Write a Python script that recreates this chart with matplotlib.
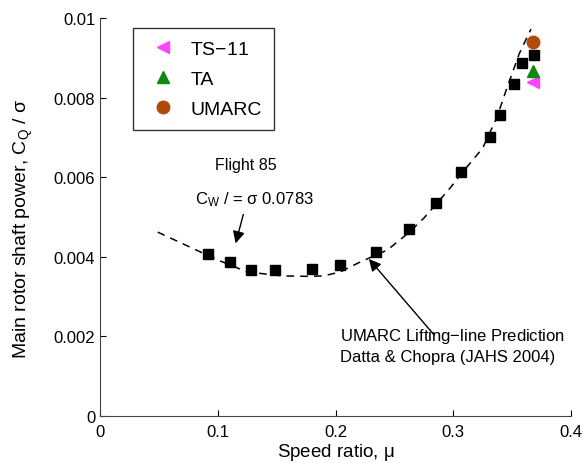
import numpy as np
import matplotlib.pyplot as plt

plt.rcParams['font.family'] = ['Liberation Sans', 'DejaVu Sans']
plt.rcParams['mathtext.fontset'] = 'custom'
plt.rcParams['mathtext.rm'] = 'Liberation Sans'
plt.rcParams['mathtext.it'] = 'Liberation Sans'

# ===============================
# Data
# ===============================
# Flight 85 measurements
mu_flight = [0.092, 0.110, 0.128, 0.149, 0.180, 0.204, 0.234, 0.262, 0.285,
             0.307, 0.331, 0.340, 0.352, 0.358, 0.369]
cq_flight = [0.00407, 0.00387, 0.00367, 0.00367, 0.00369, 0.00379, 0.00413,
             0.00470, 0.00536, 0.00614, 0.00700, 0.00757, 0.00834, 0.00888, 0.00908]

# UMARC lifting-line prediction (dashed)
mu_pred = [0.049, 0.076, 0.100, 0.125, 0.155, 0.175, 0.190, 0.204, 0.221,
           0.244, 0.262, 0.275, 0.296, 0.310, 0.325, 0.337, 0.345, 0.356, 0.366]
cq_pred = [0.00462, 0.00425, 0.00392, 0.00362, 0.00352, 0.00351, 0.00352,
           0.00362, 0.00387, 0.00417, 0.00460, 0.00497, 0.00568, 0.00620,
           0.00673, 0.00750, 0.00819, 0.00910, 0.00972]

# Other analyses at the highest speed
mu_ts11, cq_ts11 = [0.368], [0.00840]
mu_ta, cq_ta = [0.368], [0.00868]
mu_umarc, cq_umarc = [0.368], [0.00940]

# ===============================
# Plot
# ===============================
fig = plt.figure(figsize=(5.86, 4.64), dpi=100)
ax = fig.add_axes([100 / 586, 1 - 417 / 464, 471 / 586, 398 / 464])

ax.plot(mu_pred, cq_pred, 'k--', lw=1.1, dashes=(5, 4))
ax.plot(mu_flight, cq_flight, 's', color='k', ms=7.5, ls='none')
h1, = ax.plot(mu_ts11, cq_ts11, '<', color='#ff44ff', ms=9, ls='none', label='TS$-$11')
h2, = ax.plot(mu_ta, cq_ta, '^', color='#118811', ms=9, ls='none', label='TA')
h3, = ax.plot(mu_umarc, cq_umarc, 'o', color='#b04a0a', ms=9, ls='none', label='UMARC')

ax.set_xlim(0, 0.4)
ax.set_ylim(0, 0.01)
ax.set_xticks([0, 0.1, 0.2, 0.3, 0.4])
ax.set_xticklabels(['0', '0.1', '0.2', '0.3', '0.4'])
ax.set_yticks([0, 0.002, 0.004, 0.006, 0.008, 0.01])
ax.set_yticklabels(['0', '0.002', '0.004', '0.006', '0.008', '0.01'])
ax.tick_params(direction='in', length=4, labelsize=12, width=0.8)
ax.tick_params(axis='x', pad=5.5)
ax.spines['top'].set_visible(False)
ax.spines['right'].set_visible(False)
ax.spines['left'].set_color('#444444')
ax.spines['bottom'].set_color('#444444')

ax.set_xlabel('Speed ratio, $\\mu$', fontsize=13.5, labelpad=2)
ax.set_ylabel('Main rotor shaft power, C$_{\\mathrm{Q}}$ / $\\sigma$', fontsize=14)
ax.yaxis.set_label_coords(-0.137, 0.472)

leg = ax.legend(handles=[h1, h2, h3], loc='upper left', bbox_to_anchor=(0.07, 0.975),
                fontsize=14, frameon=True, fancybox=False, edgecolor='k',
                borderpad=0.65, labelspacing=0.62, handlelength=1.8,
                handletextpad=0.5, borderaxespad=0)
leg.get_frame().set_linewidth(1.0)

ax.text(0.124, 0.00633, 'Flight 85', fontsize=11.5, ha='center', va='center')
ax.text(0.131, 0.00545, 'C$_{\\mathrm{W}}$ / = $\\sigma$ 0.0783', fontsize=12, ha='center', va='center')
ax.annotate('', xy=(0.1146, 0.00427), xytext=(0.1223, 0.00513),
            arrowprops=dict(arrowstyle='-|>', color='k', lw=1, mutation_scale=18))
ax.annotate('', xy=(0.2268, 0.0040), xytext=(0.2854, 0.00198),
            arrowprops=dict(arrowstyle='-|>', color='k', lw=1, mutation_scale=18))
ax.text(0.204, 0.00225, 'UMARC Lifting$-$line Prediction\nDatta & Chopra (JAHS 2004)',
        fontsize=12, ha='left', va='top', linespacing=1.3)

fig.savefig('out.png', dpi=100)
